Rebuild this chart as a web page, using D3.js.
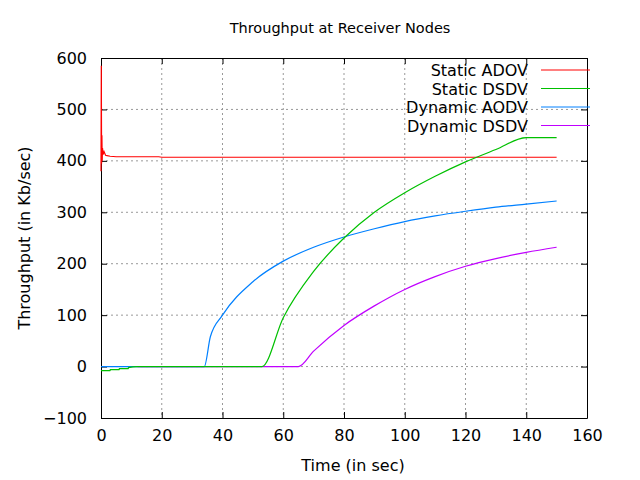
<!DOCTYPE html>
<html>
<head>
<meta charset="utf-8">
<style>
  body { margin: 0; background: #fff; }
  svg { font-family: "DejaVu Sans", sans-serif; font-size: 16px; }
</style>
</head>
<body>
<svg id="chart" width="640" height="480"></svg>
<script src="https://d3js.org/d3.v7.min.js"></script>
<script>
// Static ADOV (red)
const adovX = [0, 0.1, 0.2, 0.3, 0.4, 0.5, 0.7, 1, 1.5, 2, 3, 5, 10, 19, 20, 150];
const adovY = [380, 585, 395, 450, 400, 425, 412, 418, 411, 410, 409, 408, 408, 408, 407, 407];
// Static DSDV (green)
const sdsdvX = [0, 3, 3.01, 6, 6.01, 9, 9.01, 12, 53, 60, 70, 80, 90, 100, 110, 120, 130, 140, 150];
const sdsdvY = [-8, -8, -6, -6, -4, -4, -2, 0, 0, 95, 185, 250, 300, 338, 370, 398, 422, 445, 445];
// Dynamic AODV (blue)
const daodvX = [0, 34, 36, 40, 50, 60, 70, 80, 90, 100, 110, 120, 130, 140, 150];
const daodvY = [0, 0, 58, 100, 165, 205, 232, 252, 268, 282, 293, 302, 310, 316, 322];
// Dynamic DSDV (purple)
const ddsdvX = [12, 65, 70, 80, 90, 100, 110, 120, 130, 140, 150];
const ddsdvY = [0, 0, 30, 80, 118, 150, 175, 195, 210, 222, 232];

const names = ["Static ADOV", "Static DSDV", "Dynamic AODV", "Dynamic DSDV"];
const colors = ["#ff0000", "#00c000", "#0080ff", "#c000ff"];
const xTicks = [0, 20, 40, 60, 80, 100, 120, 140, 160];
const yTicks = [-100, 0, 100, 200, 300, 400, 500, 600];

const svg = d3.select("#chart");
const x = d3.scaleLinear().domain([0, 160]).range([101, 587]);
const y = d3.scaleLinear().domain([-100, 600]).range([418, 58]);

// grid
const g = svg.append("g");
g.selectAll(null).data(xTicks.slice(1, -1)).enter().append("line")
  .attr("x1", d => x(d)).attr("x2", d => x(d)).attr("y1", 58).attr("y2", 418)
  .attr("stroke", "#999").attr("stroke-dasharray", "2,3");
g.selectAll(null).data(yTicks.slice(1, -1)).enter().append("line")
  .attr("y1", d => y(d)).attr("y2", d => y(d)).attr("x1", 101).attr("x2", 587)
  .attr("stroke", "#999").attr("stroke-dasharray", "2,3");

// axes
svg.append("g").attr("transform", "translate(0,418)")
  .call(d3.axisBottom(x).tickValues(xTicks).tickSize(-6).tickPadding(12).tickSizeOuter(0));
svg.append("g").attr("transform", "translate(101,0)")
  .call(d3.axisLeft(y).tickValues(yTicks).tickSize(-6).tickPadding(14).tickSizeOuter(0));
svg.append("g").attr("transform", "translate(0,58)")
  .call(d3.axisTop(x).tickValues(xTicks).tickSize(-6).tickFormat("").tickSizeOuter(0));
svg.append("g").attr("transform", "translate(587,0)")
  .call(d3.axisRight(y).tickValues(yTicks).tickSize(-6).tickFormat("").tickSizeOuter(0));
svg.selectAll(".domain").attr("stroke", "#000").attr("stroke-width", 1);
svg.selectAll(".tick text").attr("font-size", 16).attr("font-family", "DejaVu Sans").attr("fill", "#000");

// lines
const series = [[adovX, adovY], [sdsdvX, sdsdvY], [daodvX, daodvY], [ddsdvX, ddsdvY]];
const drawOrder = [0, 2, 3, 1];
drawOrder.forEach(i => {
  const [xs, ys] = series[i];
  const line = d3.line().x(d => x(d[0])).y(d => y(d[1]))
    .curve(i === 0 ? d3.curveLinear : d3.curveMonotoneX);
  svg.append("path").datum(xs.map((v, k) => [v, ys[k]]))
    .attr("d", line).attr("fill", "none").attr("stroke", colors[i]).attr("stroke-width", 1.2);
});

// legend
names.forEach((n, i) => {
  const ly = 70 + i * 18.5;
  svg.append("text").attr("x", 528).attr("y", ly + 6).attr("text-anchor", "end").text(n);
  svg.append("line").attr("x1", 541).attr("x2", 590).attr("y1", ly).attr("y2", ly)
    .attr("stroke", colors[i]);
});

svg.append("text").attr("x", 340).attr("y", 33).attr("text-anchor", "middle")
  .attr("font-size", 14.5).text("Throughput at Receiver Nodes");
svg.append("text").attr("x", 353).attr("y", 471).attr("text-anchor", "middle").text("Time (in sec)");
svg.append("text").attr("transform", "translate(30,238) rotate(-90)").attr("text-anchor", "middle").text("Throughput (in Kb/sec)");
</script>
</body>
</html>
